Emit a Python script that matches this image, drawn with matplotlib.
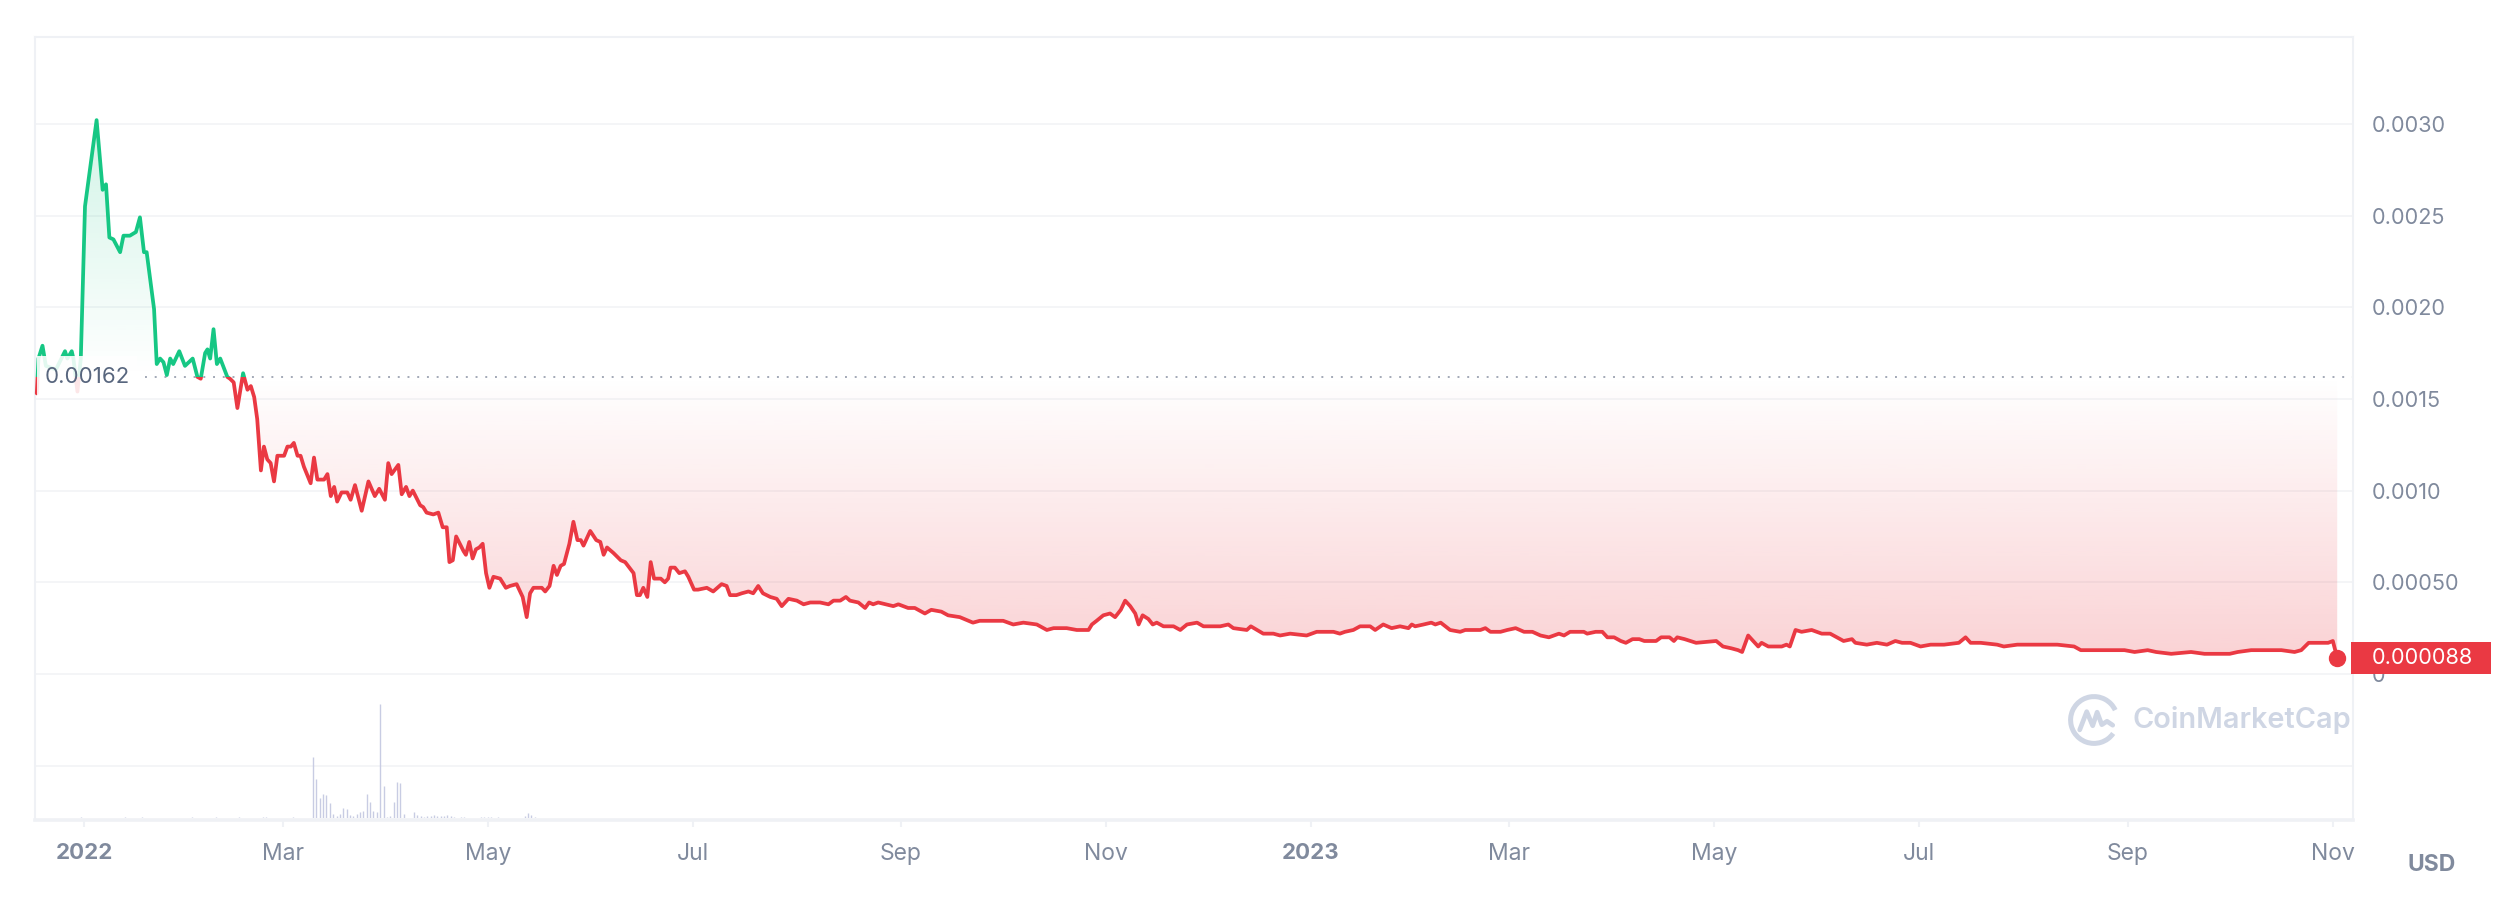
import numpy as np
import pandas as pd
import matplotlib
matplotlib.use("Agg")
import matplotlib.pyplot as plt
import matplotlib.dates as mdates
from matplotlib.patches import Rectangle, PathPatch, Arc
from matplotlib.path import Path
from matplotlib.transforms import blended_transform_factory

plt.rcParams['font.family'] = ['Inter', 'DejaVu Sans']

# ---------------- data ----------------
START = "2022-01-01"
day_offsets = [
    -14.2, -13.7, -12.5, -11.5, -8.5, -5.8, -5.1, -3.8, -3.3, -2.1,
    -1.1, 0.15, 3.6, 5.4, 6.4, 7.4, 8.6, 10.6, 11.6, 13.5,
    15.3, 16.5, 17.7, 18.5, 20.7, 21.5, 22.5, 23.5, 24.5, 25.5,
    26.4, 28.2, 29.9, 32.2, 33.6, 34.6, 35.9, 36.6, 37.4, 38.4,
    39.4, 40.4, 42.5, 43.3, 44.4, 45.5, 47.2, 48.5, 49.5, 50.5,
    51.4, 52.5, 53.4, 54.4, 55.4, 56.4, 57.4, 59.4, 60.4, 61.4,
    62.3, 63.4, 64.3, 65.3, 67.3, 68.3, 69.3, 71.3, 72.3, 73.3,
    74.3, 75.2, 76.5, 78.2, 79.2, 80.5, 82.5, 84.5, 86.4, 87.7,
    89.4, 90.4, 91.4, 93.4, 94.4, 95.7, 96.7, 97.7, 99.9, 100.8,
    101.8, 103.8, 105.3, 106.6, 107.8, 108.6, 109.6, 110.6, 112.8, 113.5,
    114.5, 115.5, 116.5, 117.5, 118.5, 119.5, 120.5, 121.7, 123.7, 125.4,
    126.6, 128.6, 130.4, 131.6, 132.6, 133.6, 136.1, 137.1, 138.4, 139.6,
    140.6, 141.7, 142.7, 144.3, 145.5, 146.7, 147.7, 148.5, 150.5, 152.3,
    153.5, 154.5, 155.5, 157.4, 159.6, 160.9, 163.4, 164.4, 165.3, 166.3,
    167.5, 168.5, 169.5, 171.5, 172.7, 173.7, 174.4, 175.7, 177.0, 178.7,
    179.7, 181.4, 182.6, 185.2, 187.1, 189.6, 191.1, 192.1, 194.0, 195.6,
    197.6, 199.0, 200.5, 201.9, 204.1, 206.0, 207.5, 209.5, 212.0, 214.0,
    216.0, 218.9, 221.4, 222.9, 224.9, 226.6, 227.8, 230.3, 232.3, 233.5,
    234.7, 236.2, 240.7, 242.2, 245.1, 247.1, 250.1, 252.0, 255.0, 257.0,
    260.5, 264.4, 266.4, 268.9, 270.9, 273.4, 276.4, 279.4, 283.4, 286.4,
    288.4, 292.3, 295.3, 298.8, 299.8, 301.2, 303.2, 305.2, 306.7, 308.4,
    309.7, 311.2, 312.7, 313.7, 314.9, 316.6, 317.9, 319.1, 321.1, 324.1,
    326.1, 328.1, 331.1, 333.0, 334.5, 338.0, 340.4, 341.9, 345.9, 347.1,
    350.8, 353.8, 355.8, 358.8, 363.7, 366.7, 371.7, 373.6, 375.1, 377.6,
    379.6, 382.6, 384.1, 386.5, 389.0, 391.5, 394.0, 395.0, 396.0, 398.5,
    400.8, 402.0, 403.6, 406.4, 409.4, 410.9, 413.4, 415.4, 416.9, 418.4,
    421.4, 423.4, 425.9, 428.4, 430.9, 433.3, 435.8, 438.8, 440.3, 442.1,
    446.2, 447.2, 449.7, 451.7, 453.2, 455.2, 457.2, 458.7, 460.7, 462.7,
    464.2, 467.7, 469.2, 471.7, 473.0, 474.0, 476.2, 479.6, 485.6, 487.6,
    490.1, 492.1, 493.3, 495.1, 497.1, 498.1, 499.1, 501.1, 503.1, 505.1,
    506.5, 507.5, 509.2, 511.0, 514.0, 517.0, 519.5, 521.5, 523.5, 526.0,
    527.0, 530.4, 533.4, 536.4, 538.9, 540.9, 543.4, 546.4, 549.4, 553.4,
    557.8, 559.8, 561.3, 564.3, 569.2, 571.2, 575.2, 579.2, 583.1, 587.1,
    592.1, 594.1, 599.1, 603.1, 607.1, 610.1, 614.0, 616.5, 621.0, 626.9,
    630.9, 638.4, 640.8, 644.8, 648.8, 653.8, 657.7, 659.7, 661.9, 663.7,
    665.7, 667.7, 669.1, 670.1, 670.4,
]
prices = [
    0.00153, 0.00172, 0.00179, 0.00168, 0.00166, 0.00176, 0.00172, 0.00176, 0.00172, 0.00154,
    0.00172, 0.00255, 0.00302, 0.00264, 0.00267, 0.00238, 0.00237, 0.00230, 0.00239, 0.00239,
    0.00241, 0.00249, 0.00230, 0.00230, 0.00199, 0.00169, 0.00172, 0.00170, 0.00163, 0.00172,
    0.00169, 0.00176, 0.00168, 0.00172, 0.00162, 0.00161, 0.00175, 0.00177, 0.00172, 0.00188,
    0.00169, 0.00172, 0.00162, 0.00161, 0.00159, 0.00145, 0.00164, 0.00155, 0.00157, 0.00151,
    0.00139, 0.00111, 0.00124, 0.00117, 0.00115, 0.00105, 0.00119, 0.00119, 0.00124, 0.00124,
    0.00126, 0.00119, 0.00119, 0.00113, 0.00104, 0.00118, 0.00106, 0.00106, 0.00109, 0.00097,
    0.00102, 0.00094, 0.00099, 0.00099, 0.00095, 0.00103, 0.00089, 0.00105, 0.00097, 0.00101,
    0.00095, 0.00115, 0.00109, 0.00114, 0.00098, 0.00102, 0.00097, 0.00100, 0.00092, 0.00091,
    0.00088, 0.00087, 0.00088, 0.00080, 0.00080, 0.00061, 0.00062, 0.00075, 0.00067, 0.00065,
    0.00072, 0.00063, 0.00068, 0.00069, 0.00071, 0.00055, 0.00047, 0.00053, 0.00052, 0.00047,
    0.00048, 0.00049, 0.00042, 0.00031, 0.00044, 0.00047, 0.00047, 0.00045, 0.00048, 0.00059,
    0.00054, 0.00059, 0.00060, 0.00071, 0.00083, 0.00073, 0.00073, 0.00070, 0.00078, 0.00073,
    0.00072, 0.00065, 0.00069, 0.00066, 0.00062, 0.00061, 0.00055, 0.00043, 0.00043, 0.00047,
    0.00042, 0.00061, 0.00052, 0.00052, 0.00050, 0.00052, 0.00058, 0.00058, 0.00055, 0.00056,
    0.00053, 0.00046, 0.00046, 0.00047, 0.00045, 0.00049, 0.00048, 0.00043, 0.00043, 0.00044,
    0.00045, 0.00044, 0.00048, 0.00044, 0.00042, 0.00041, 0.00037, 0.00041, 0.00040, 0.00038,
    0.00039, 0.00039, 0.00038, 0.00040, 0.00040, 0.00042, 0.00040, 0.00039, 0.00036, 0.00039,
    0.00038, 0.00039, 0.00037, 0.00038, 0.00036, 0.00036, 0.00033, 0.00035, 0.00034, 0.00032,
    0.00031, 0.00028, 0.00029, 0.00029, 0.00029, 0.00029, 0.00027, 0.00028, 0.00027, 0.00024,
    0.00025, 0.00025, 0.00024, 0.00024, 0.00027, 0.00029, 0.00032, 0.00033, 0.00031, 0.00035,
    0.00040, 0.00037, 0.00033, 0.00027, 0.00032, 0.00030, 0.00027, 0.00028, 0.00026, 0.00026,
    0.00024, 0.00027, 0.00028, 0.00026, 0.00026, 0.00026, 0.00027, 0.00025, 0.00024, 0.00026,
    0.00022, 0.00022, 0.00021, 0.00022, 0.00021, 0.00023, 0.00023, 0.00022, 0.00023, 0.00024,
    0.00026, 0.00026, 0.00024, 0.00027, 0.00025, 0.00026, 0.00025, 0.00027, 0.00026, 0.00027,
    0.00028, 0.00027, 0.00028, 0.00024, 0.00023, 0.00024, 0.00024, 0.00024, 0.00025, 0.00023,
    0.00023, 0.00024, 0.00025, 0.00023, 0.00023, 0.00021, 0.00020, 0.00022, 0.00021, 0.00023,
    0.00023, 0.00022, 0.00023, 0.00023, 0.00020, 0.00020, 0.00018, 0.00017, 0.00019, 0.00019,
    0.00018, 0.00018, 0.00020, 0.00020, 0.00018, 0.00020, 0.00019, 0.00017, 0.00018, 0.00015,
    0.00014, 0.00013, 0.00012, 0.00021, 0.00017, 0.00015, 0.00017, 0.00015, 0.00015, 0.00015,
    0.00016, 0.00015, 0.00024, 0.00023, 0.00024, 0.00022, 0.00022, 0.00020, 0.00018, 0.00019,
    0.00017, 0.00016, 0.00017, 0.00016, 0.00018, 0.00017, 0.00017, 0.00015, 0.00016, 0.00016,
    0.00017, 0.00020, 0.00017, 0.00017, 0.00016, 0.00015, 0.00016, 0.00016, 0.00016, 0.00016,
    0.00015, 0.00013, 0.00013, 0.00013, 0.00013, 0.00012, 0.00013, 0.00012, 0.00011, 0.00012,
    0.00011, 0.00011, 0.00012, 0.00013, 0.00013, 0.00013, 0.00012, 0.00013, 0.00017, 0.00017,
    0.00017, 0.00017, 0.00018, 0.00011, 0.000088,
]
baseline_price = 0.00162

vol_day_offsets = [
    -1, 12, 17, 32, 39, 46, 53, 54, 62,
    68, 69, 70, 71, 72, 73, 74, 75, 76, 77, 78, 79, 80, 81, 82, 83, 84, 85, 86, 87,
    88, 89, 90, 91, 92, 93, 94, 95,
    98, 99, 100, 101, 102, 103, 104, 105, 106, 107, 108, 109, 110,
    112, 113, 118, 119, 120, 121, 123, 131, 132, 133, 134,
]
volumes = [
    1, 1, 1, 1, 1, 1, 1, 1, 1,
    61, 39, 20, 24, 23, 15, 4, 2, 4, 10, 9, 3, 2, 4, 6, 7, 24, 16, 7, 6,
    114, 32, 1, 2, 16, 36, 35, 4,
    6, 3, 2, 1, 2, 2, 3, 2, 2, 2, 3, 2, 1,
    1, 1, 1, 1, 1, 1, 1, 2, 5, 3, 1,
]

y_tick_values = [-0.0005, 0.0, 0.0005, 0.0010, 0.0015, 0.0020, 0.0025, 0.0030]
y_tick_labels = ["", "0", "0.00050", "0.0010", "0.0015", "0.0020", "0.0025", "0.0030"]
x_tick_dates = ["2022-01-01", "2022-03-01", "2022-05-01", "2022-07-01", "2022-09-01", "2022-11-01",
                "2023-01-01", "2023-03-01", "2023-05-01", "2023-07-01", "2023-09-01", "2023-11-01"]
x_tick_labels = ["2022", "Mar", "May", "Jul", "Sep", "Nov", "2023", "Mar", "May", "Jul", "Sep", "Nov"]

assert len(day_offsets) == len(prices)
assert len(vol_day_offsets) == len(volumes)

# ---------------- style ----------------
RED = "#ea3943"
GREEN = "#16c784"
GRID = "#f1f2f5"
FRAME = "#eff1f5"
TICK = "#808a9d"

W, H = 2520, 902
fig = plt.figure(figsize=(W / 100, H / 100), dpi=100)
fig.patch.set_facecolor("white")

L, R, T, B = 35, 2353, 37, 820
px_per_price = 183400.0
zero_px = 674.0
ymin = (zero_px - B) / px_per_price
ymax = (zero_px - T) / px_per_price

ax = fig.add_axes([L / W, 1 - B / H, (R - L) / W, (B - T) / H])
ax.patch.set_visible(False)

t0 = mdates.date2num(pd.Timestamp(START))
x = t0 + np.asarray(day_offsets, dtype=float)
y = np.asarray(prices, dtype=float)
xlim = (t0 - 14.73, t0 + 675.1)

# gradient fills
def gradient_fill(ax, x, y, base, above, rgb, a_max, y_far):
    where = y >= base if above else y <= base
    coll = ax.fill_between(x, y, base, where=where, interpolate=True,
                           facecolor="none", edgecolor="none", linewidth=0)
    paths = coll.get_paths()
    coll.remove()
    if not paths:
        return
    cpath = Path.make_compound_path(*paths)
    patch = PathPatch(cpath, transform=ax.transData, facecolor="none", edgecolor="none")
    ax.add_patch(patch)
    n = 256
    img = np.zeros((n, 1, 4))
    img[..., 0], img[..., 1], img[..., 2] = rgb
    lo, hi = (base, y_far) if above else (y_far, base)
    frac = np.linspace(0, 1, n)  # 0 at lo, 1 at hi
    if above:
        img[:, 0, 3] = a_max * frac
    else:
        img[:, 0, 3] = a_max * (1 - frac)
    im = ax.imshow(img, extent=[x.min(), x.max(), lo, hi], origin="lower",
                   aspect="auto", interpolation="bilinear", zorder=1)
    im.set_clip_path(patch)

gradient_fill(ax, x, y, baseline_price, True, matplotlib.colors.to_rgb(GREEN), 0.20, 0.00305)
gradient_fill(ax, x, y, baseline_price, False, matplotlib.colors.to_rgb(RED), 0.24, 0.0)

# coloured price line
LW = 2.7
rect_up = Rectangle((xlim[0] - 100, baseline_price), 2000, 1, transform=ax.transData)
rect_dn = Rectangle((xlim[0] - 100, baseline_price - 1), 2000, 1, transform=ax.transData)
l_up, = ax.plot(x, y, color=GREEN, lw=LW, zorder=3, solid_joinstyle="round", solid_capstyle="round")
l_up.set_clip_path(rect_up)
l_dn, = ax.plot(x, y, color=RED, lw=LW, zorder=3, solid_joinstyle="round", solid_capstyle="round")
l_dn.set_clip_path(rect_dn)
ax.plot([x[-1]], [y[-1]], "o", ms=11.5, color=RED, zorder=4, clip_on=False)

# dotted baseline
ax.plot([t0 + 18.0, xlim[1]], [baseline_price, baseline_price], color="#a3a9b7",
        lw=1.4, ls=(0, (1, 4)), zorder=2)

ax.set_xlim(*xlim)
ax.set_ylim(ymin, ymax)

# grid / frame
ax.set_yticks(y_tick_values)
ax.set_yticklabels(y_tick_labels)
ax.yaxis.tick_right()
ax.grid(axis="y", color=GRID, lw=1.1, zorder=0)
ax.set_axisbelow(True)
ax.tick_params(axis="y", length=0, pad=13.5, labelsize=15.6, labelcolor=TICK)
for side in ["left", "top", "right"]:
    ax.spines[side].set_color(FRAME)
    ax.spines[side].set_linewidth(1.5)
ax.spines["bottom"].set_color(FRAME)
ax.spines["bottom"].set_linewidth(2.6)

tick_nums = [mdates.date2num(pd.Timestamp(d)) for d in x_tick_dates]
ax.set_xticks(tick_nums)
ax.set_xticklabels(x_tick_labels)
ax.tick_params(axis="x", length=5, width=1.5, color=FRAME, pad=11.5, labelsize=16.5, labelcolor=TICK)
for lab in ax.get_xticklabels():
    if lab.get_text().isdigit():
        lab.set_fontweight("bold")
        lab.set_fontsize(16)

# baseline label (left)
bt = blended_transform_factory(fig.transFigure, ax.transData)
box_h = 42 / px_per_price
ax.add_patch(Rectangle((37 / W, baseline_price - box_h / 2), 100 / W, box_h, transform=bt,
                       facecolor="white", alpha=0.88, edgecolor="none", zorder=5, clip_on=False))
ax.text(45 / W, baseline_price, f"{baseline_price:.5f}", transform=bt, ha="left", va="center",
        fontsize=16, color="#58667e", zorder=6)

# last price label (right)
lab_h = 32 / px_per_price
ax.add_patch(Rectangle((2351 / W, y[-1] - lab_h / 2), 140 / W, lab_h, transform=bt,
                       facecolor=RED, edgecolor="none", zorder=5, clip_on=False))
ax.text(2372 / W, y[-1], f"{prices[-1]:.6f}", transform=bt, ha="left", va="center",
        fontsize=15.6, color="white", zorder=6, clip_on=False)

# volume panel
vax = fig.add_axes([L / W, 1 - 818 / H, (R - L) / W, (818 - zero_px) / H])
vax.patch.set_visible(False)
vx = t0 + np.asarray(vol_day_offsets, dtype=float)
vax.vlines(vx, 0, volumes, color="#c8cce3", lw=1.0)
vax.set_xlim(*xlim)
vax.set_ylim(0, max(volumes) * 144 / 114)
vax.axis("off")

# watermark
fig.text(2133 / W, 1 - 720 / H, "CoinMarketCap", ha="left", va="center",
         fontsize=20.8, fontweight="semibold", color="#cfd6e4")
lax = fig.add_axes([(2094 - 26) / W, 1 - (720 + 26) / H, 52 / W, 52 / H])
lax.set_xlim(-1, 1)
lax.set_ylim(-1, 1)
lax.axis("off")
lax.add_patch(Arc((0, 0), 1.8, 1.8, theta1=25, theta2=325, color="#cfd6e4", lw=3.6))
lax.plot([-0.55, -0.28, -0.05, 0.12, 0.3, 0.5, 0.72],
         [-0.38, 0.32, -0.22, 0.3, -0.18, -0.05, -0.2], color="#cfd6e4", lw=3.4,
         solid_joinstyle="round", solid_capstyle="round")

# currency label
fig.text(2432 / W, 1 - 865 / H, "USD", ha="center", va="center", fontsize=16.5,
         fontweight="bold", color=TICK)

fig.savefig("out.png", dpi=100, facecolor="white")
